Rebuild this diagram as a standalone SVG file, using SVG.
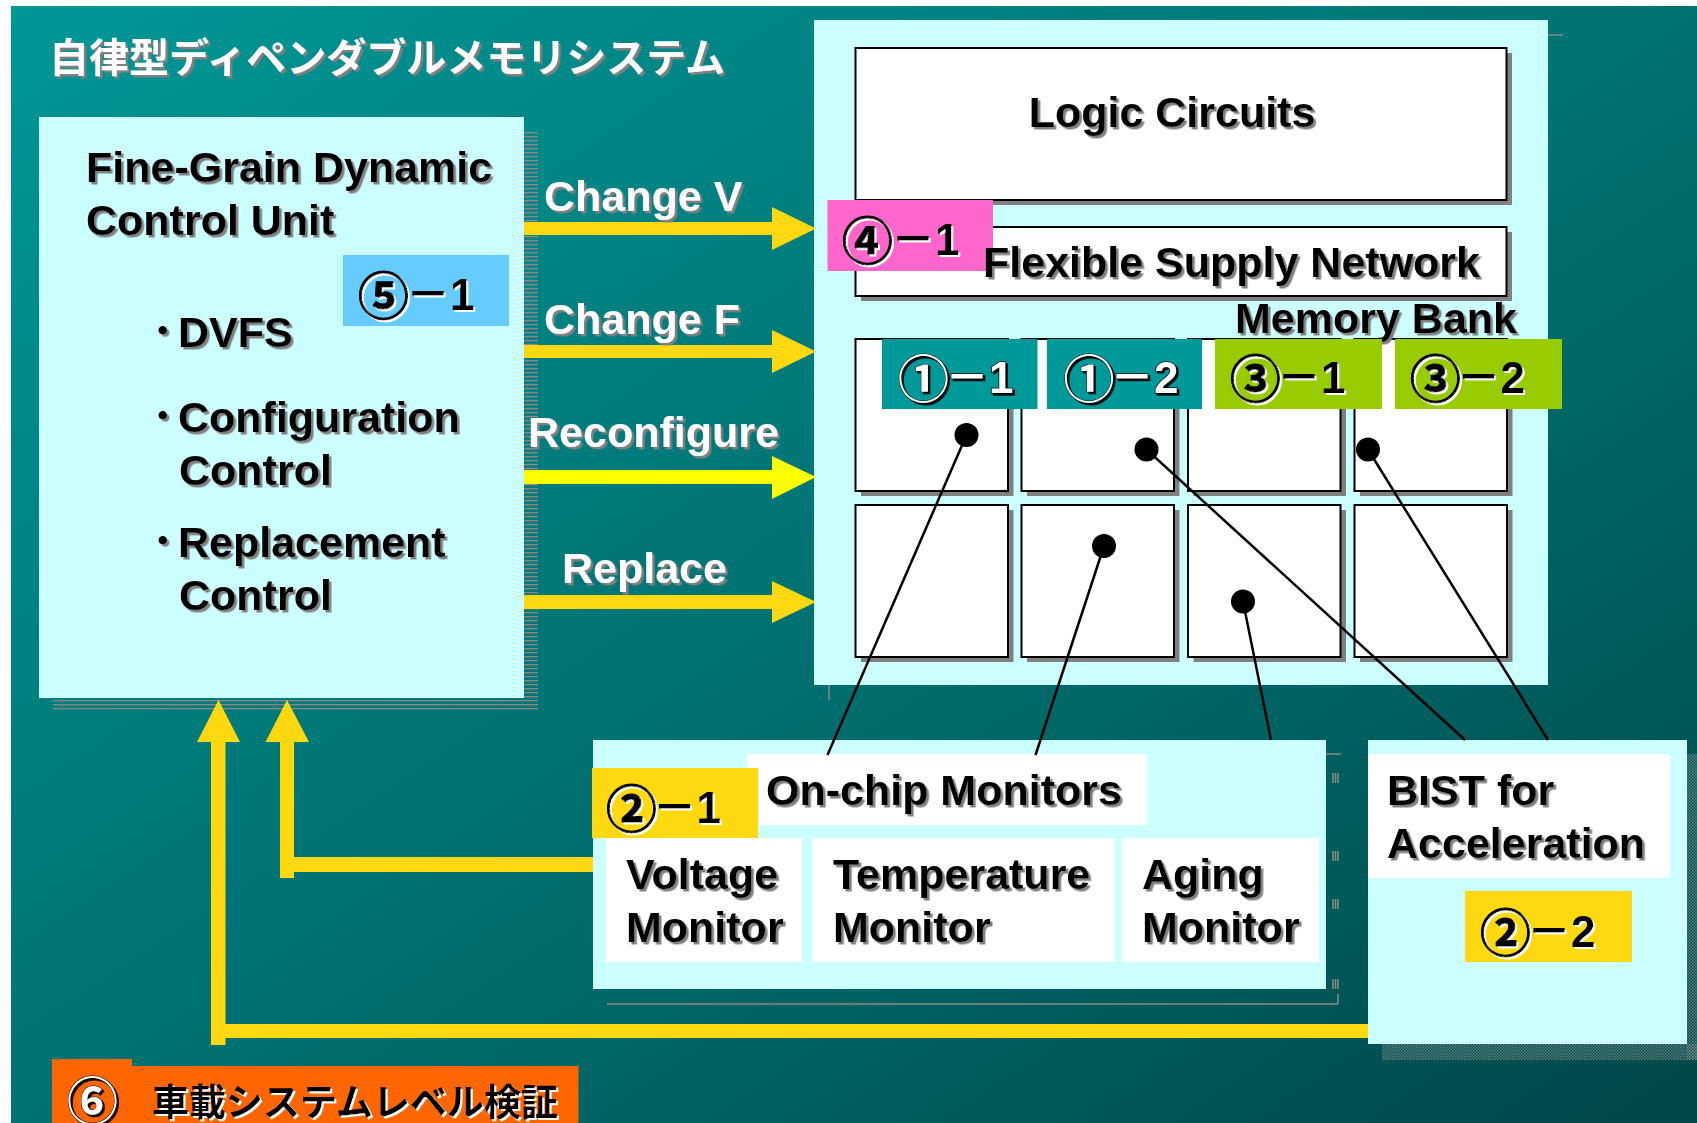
<svg xmlns="http://www.w3.org/2000/svg" width="1697" height="1123" viewBox="0 0 1697 1123">
<defs>
<linearGradient id="bg" x1="0" y1="0" x2="1" y2="1">
<stop offset="0" stop-color="#009797"/>
<stop offset="0.55" stop-color="#006e6e"/>
<stop offset="1" stop-color="#004747"/>
</linearGradient>
<pattern id="stripe" width="4" height="4" patternUnits="userSpaceOnUse">
<rect width="4" height="1.3" fill="#8f8787"/>
</pattern>
<pattern id="dots" width="3" height="3" patternUnits="userSpaceOnUse">
<rect width="1.5" height="1.5" fill="#9a9a9a"/>
<rect x="1.5" y="1.5" width="1.5" height="1.5" fill="#7a8a8a"/>
</pattern>
<filter id="sh" x="-5%" y="-20%" width="115%" height="150%">
<feDropShadow dx="2.5" dy="2.5" stdDeviation="0.2" flood-color="#808080" flood-opacity="1"/>
</filter>
<filter id="wsh" x="-5%" y="-20%" width="115%" height="150%">
<feDropShadow dx="2" dy="2" stdDeviation="0.2" flood-color="#ffffff" flood-opacity="1"/>
</filter>
<filter id="ksh" x="-5%" y="-20%" width="115%" height="150%">
<feDropShadow dx="2" dy="2" stdDeviation="0.2" flood-color="#000000" flood-opacity="0.9"/>
</filter>
</defs>
<style>
.t{font-family:'Liberation Sans',Arial,'Noto Sans CJK JP',sans-serif;font-weight:bold;font-size:43px;fill:#000;filter:url(#sh)}
.tw{font-family:'Liberation Sans',Arial,'Noto Sans CJK JP',sans-serif;font-weight:bold;font-size:43px;fill:#fff;filter:url(#sh)}
.cjk{font-family:'Noto Sans CJK JP',sans-serif;font-weight:bold}
.lb{font-family:'Liberation Sans','Noto Sans CJK JP',sans-serif;font-weight:bold;font-size:44px;fill:#000;filter:url(#wsh)}
.lw{font-family:'Liberation Sans','Noto Sans CJK JP',sans-serif;font-weight:bold;font-size:44px;fill:#fff;stroke:#000;stroke-width:1.4;paint-order:stroke;filter:url(#ksh)}
.c{font-family:'Noto Sans CJK JP',sans-serif;font-size:51px;stroke-width:1}
.lb .c{stroke:#000}
.cy{fill:#ccffff}
.box{fill:#fff;stroke:#000;stroke-width:2}
.shd{fill:#808080}
.arr{fill:#ffd80f}
.link{stroke:#000;stroke-width:2.5;fill:none}
.thin{stroke:#8a8a8a;stroke-width:1.5;fill:none}
</style>

<rect x="0" y="0" width="1697" height="1123" fill="#ffffff"/>
<rect x="11" y="6" width="1686" height="1117" fill="url(#bg)"/>

<text x="49" y="72" class="cjk" font-size="40" fill="#ffffff" filter="url(#sh)">自律型ディペンダブルメモリシステム</text>

<g id="control-unit">
<rect x="53" y="131" width="485" height="581" fill="url(#stripe)"/>
<rect x="39" y="117" width="485" height="581" class="cy"/>
<text class="t" x="86" y="182">Fine-Grain Dynamic</text>
<text class="t" x="86" y="235">Control Unit</text>
<text class="t" x="152" y="347"><tspan class="cjk">･</tspan><tspan x="178">DVFS</tspan></text>
<text class="t" x="152" y="432"><tspan class="cjk">･</tspan><tspan x="178">Configuration</tspan></text>
<text class="t" x="179" y="485">Control</text>
<text class="t" x="152" y="557"><tspan class="cjk">･</tspan><tspan x="178">Replacement</tspan></text>
<text class="t" x="179" y="610">Control</text>
</g>

<g id="label-5-1">
<rect x="343" y="255" width="166" height="71" fill="#66ccff"/>
<text class="lb"><tspan class="c" x="358" y="314.5">⑤</tspan><tspan x="406" y="310">－1</tspan></text>
</g>

<g id="memory-system">
<line x1="1548" y1="35" x2="1563" y2="35" class="thin"/>
<line x1="829" y1="685" x2="829" y2="700" class="thin"/>
<rect x="814" y="20" width="734" height="665" class="cy"/>
</g>

<g id="logic-circuits">
<rect x="861" y="53" width="651" height="152" class="shd"/>
<rect x="855.5" y="48" width="651" height="152" class="box"/>
<text class="t" x="1172" y="127" text-anchor="middle">Logic Circuits</text>
</g>

<g id="flexible-supply-network">
<rect x="861" y="232" width="651" height="69" class="shd"/>
<rect x="855.5" y="227" width="651" height="69" class="box"/>
</g>

<g id="label-4-1">
<rect x="827.5" y="200" width="165.5" height="71" fill="#ff66cc"/>
<text class="lb"><tspan class="c" x="842" y="259.5">④</tspan><tspan x="891" y="255">－1</tspan></text>
</g>

<g id="flexible-supply-network-text">
<text class="t" x="983" y="277">Flexible Supply Network</text>
</g>

<g id="memory-bank">
<rect x="861" y="344" width="152.5" height="152" class="shd"/>
<rect x="1027" y="344" width="152.5" height="152" class="shd"/>
<rect x="1193.5" y="344" width="152.5" height="152" class="shd"/>
<rect x="1360" y="344" width="152.5" height="152" class="shd"/>
<rect x="861" y="510" width="152.5" height="152" class="shd"/>
<rect x="1027" y="510" width="152.5" height="152" class="shd"/>
<rect x="1193.5" y="510" width="152.5" height="152" class="shd"/>
<rect x="1360" y="510" width="152.5" height="152" class="shd"/>
<rect x="855.5" y="339" width="152.5" height="152" class="box"/>
<rect x="1021.5" y="339" width="152.5" height="152" class="box"/>
<rect x="1188" y="339" width="152.5" height="152" class="box"/>
<rect x="1354.5" y="339" width="152.5" height="152" class="box"/>
<rect x="855.5" y="505" width="152.5" height="152" class="box"/>
<rect x="1021.5" y="505" width="152.5" height="152" class="box"/>
<rect x="1188" y="505" width="152.5" height="152" class="box"/>
<rect x="1354.5" y="505" width="152.5" height="152" class="box"/>
<text class="t" x="1235" y="333">Memory Bank</text>
</g>

<g id="label-1-1">
<rect x="882" y="339" width="155.5" height="70" fill="#009999"/>
<text class="lw"><tspan class="c" x="898" y="397.5">①</tspan><tspan x="945" y="393">－1</tspan></text>
</g>
<g id="label-1-2">
<rect x="1047" y="339" width="155" height="70" fill="#009999"/>
<text class="lw"><tspan class="c" x="1063.5" y="397.5">①</tspan><tspan x="1110" y="393">－2</tspan></text>
</g>
<g id="label-3-1">
<rect x="1215" y="339" width="167" height="70" fill="#99cc00"/>
<text class="lb"><tspan class="c" x="1230" y="397.5">③</tspan><tspan x="1277" y="393">－1</tspan></text>
</g>
<g id="label-3-2">
<rect x="1395" y="339" width="167" height="70" fill="#99cc00"/>
<text class="lb"><tspan class="c" x="1410" y="397.5">③</tspan><tspan x="1456.5" y="393">－2</tspan></text>
</g>

<g id="on-chip-monitors">
<line x1="607" y1="1004" x2="1338" y2="1004" class="thin"/>
<line x1="1338" y1="994" x2="1338" y2="1004" class="thin"/>
<line x1="1326" y1="754" x2="1341" y2="754" class="thin"/>
<path d="M1333,773v10M1335.5,773v10M1338,773v10M1333,851v10M1335.5,851v10M1338,851v10M1333,899v10M1335.5,899v10M1338,899v10M1333,979v10M1335.5,979v10M1338,979v10" class="thin" stroke-width="1"/>
<rect x="593" y="740" width="733" height="249" class="cy"/>
<rect x="747" y="754" width="400" height="71" fill="#ffffff"/>
<text class="t" x="766" y="805">On-chip Monitors</text>
</g>

<g id="label-2-1">
<rect x="592" y="768" width="166" height="70" fill="#ffd90f"/>
<text class="lb"><tspan class="c" x="606" y="827.5">②</tspan><tspan x="652.5" y="823">－1</tspan></text>
</g>

<g id="voltage-monitor">
<rect x="606" y="838" width="196" height="124" fill="#ffffff"/>
<text class="t" x="626" y="889">Voltage</text>
<text class="t" x="626" y="942">Monitor</text>
</g>
<g id="temperature-monitor">
<rect x="812.5" y="838" width="302" height="124" fill="#ffffff"/>
<text class="t" x="833" y="889">Temperature</text>
<text class="t" x="833" y="942">Monitor</text>
</g>
<g id="aging-monitor">
<rect x="1122" y="838" width="197" height="124" fill="#ffffff"/>
<text class="t" x="1142" y="889">Aging</text>
<text class="t" x="1142" y="942">Monitor</text>
</g>

<g id="bist">
<rect x="1382" y="1044" width="315" height="16" fill="url(#dots)" opacity="0.7"/>
<rect x="1687" y="754" width="10" height="306" fill="url(#dots)" opacity="0.7"/>
<rect x="1368" y="740" width="319" height="304" class="cy"/>
<rect x="1368" y="754" width="302" height="124" fill="#ffffff"/>
<text class="t" x="1387" y="805">BIST for</text>
<text class="t" x="1387" y="858">Acceleration</text>
</g>

<g id="label-2-2">
<rect x="1465" y="891" width="167" height="71" fill="#ffd90f"/>
<text class="lb"><tspan class="c" x="1480" y="951.5">②</tspan><tspan x="1527" y="947">－2</tspan></text>
</g>

<g id="label-6">
<path d="M52,1059H132V1066H578.5V1123H52Z" fill="#ff6600"/>
<text class="lw"><tspan class="c" x="67" y="1120" font-size="52">⑥</tspan></text>
<text x="152" y="1116" class="cjk" font-size="37" fill="#000000" filter="url(#wsh)">車載システムレベル検証</text>
</g>

<g id="connectors">
<path class="arr" d="M524,222H772V207L816,228.5L772,250V235H524Z"/>
<path class="arr" d="M524,345H772V330L816,351.5L772,373V358H524Z"/>
<path fill="#ffff00" d="M524,470H772V456L816,477L772,499V484H524Z"/>
<path class="arr" d="M524,595H772V581L816,602L772,623V609H524Z"/>
<path class="arr" d="M211,1045V742H197L218.5,700L240,742H225.5V1024H1368V1038H225.5V1045Z"/>
<path class="arr" d="M280,878V742H265.5L287,700L309,742H294V857H593V872H294V878Z"/>
<line class="link" x1="966.5" y1="435" x2="827.5" y2="755"/>
<line class="link" x1="1104" y1="546" x2="1035.5" y2="755"/>
<line class="link" x1="1243" y1="601.5" x2="1271" y2="740"/>
<line class="link" x1="1146.5" y1="449.5" x2="1465" y2="740"/>
<line class="link" x1="1368" y1="449.5" x2="1548" y2="740"/>
<ellipse cx="966.5" cy="435" rx="12" ry="12"/>
<ellipse cx="1146.5" cy="449.5" rx="12" ry="12"/>
<ellipse cx="1368" cy="449.5" rx="12" ry="12"/>
<ellipse cx="1104" cy="546" rx="12" ry="12"/>
<ellipse cx="1243" cy="601.5" rx="12" ry="12"/>
</g>

<text class="tw" x="544" y="211">Change V</text>
<text class="tw" x="544" y="334">Change F</text>
<text class="tw" x="528" y="447">Reconfigure</text>
<text class="tw" x="562" y="583">Replace</text>
</svg>
